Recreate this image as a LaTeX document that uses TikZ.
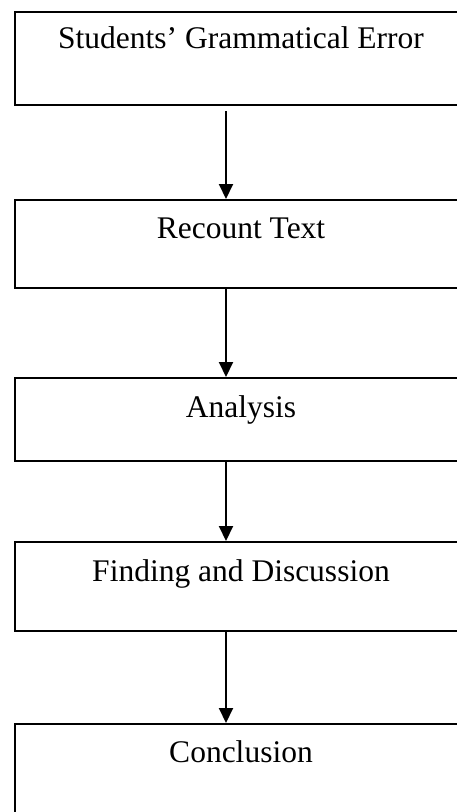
\documentclass[tikz,border=0pt]{standalone}
\usepackage{fontspec}
\setmainfont{Liberation Serif}
\usetikzlibrary{arrows.meta}
\begin{document}
\begin{tikzpicture}[x=1pt,y=1pt,
  stagebox/.style={draw=black, line width=2pt, rectangle, anchor=north west,
    minimum width=452pt, inner sep=0pt},
  stagetext/.style={anchor=base, inner sep=0pt, font=\fontsize{31.5}{36}\selectfont},
  flow/.style={line width=2pt, -{Triangle[length=15pt,width=14pt]}}]
  % page frame; the boxes run past the right and bottom edges
  \clip (0,0) rectangle (457,-812);
  \fill[white] (0,0) rectangle (457,-812);

  % stage boxes
  \node[stagebox, minimum height=93pt] (b1) at (14,-11)  {};
  \node[stagebox, minimum height=88pt] (b2) at (14,-199) {};
  \node[stagebox, minimum height=83pt] (b3) at (14,-377) {};
  \node[stagebox, minimum height=89pt] (b4) at (14,-541) {};
  \node[stagebox, minimum height=100pt] (b5) at (14,-723) {};

  % stage titles, set near the top of each box
  \node[stagetext] (t1) at ([yshift=-37pt]b1.north) {Students’ Grammatical Error};
  \node[stagetext] (t2) at ([yshift=-39pt]b2.north) {Recount Text};
  \node[stagetext] (t3) at ([yshift=-40pt]b3.north) {Analysis};
  \node[stagetext] (t4) at ([yshift=-40pt]b4.north) {Finding and Discussion};
  \node[stagetext] (t5) at ([yshift=-39pt]b5.north) {Conclusion};

  % connectors between consecutive stages
  \coordinate (a1s) at ([yshift=-5pt]b1.south -| 226,0);
  \draw[flow] (a1s) -- (b2.north -| a1s);
  \draw[flow] (b2.south -| a1s) -- (b3.north -| a1s);
  \draw[flow] (b3.south -| a1s) -- (b4.north -| a1s);
  \draw[flow] (b4.south -| a1s) -- (b5.north -| a1s);
\end{tikzpicture}
\end{document}
